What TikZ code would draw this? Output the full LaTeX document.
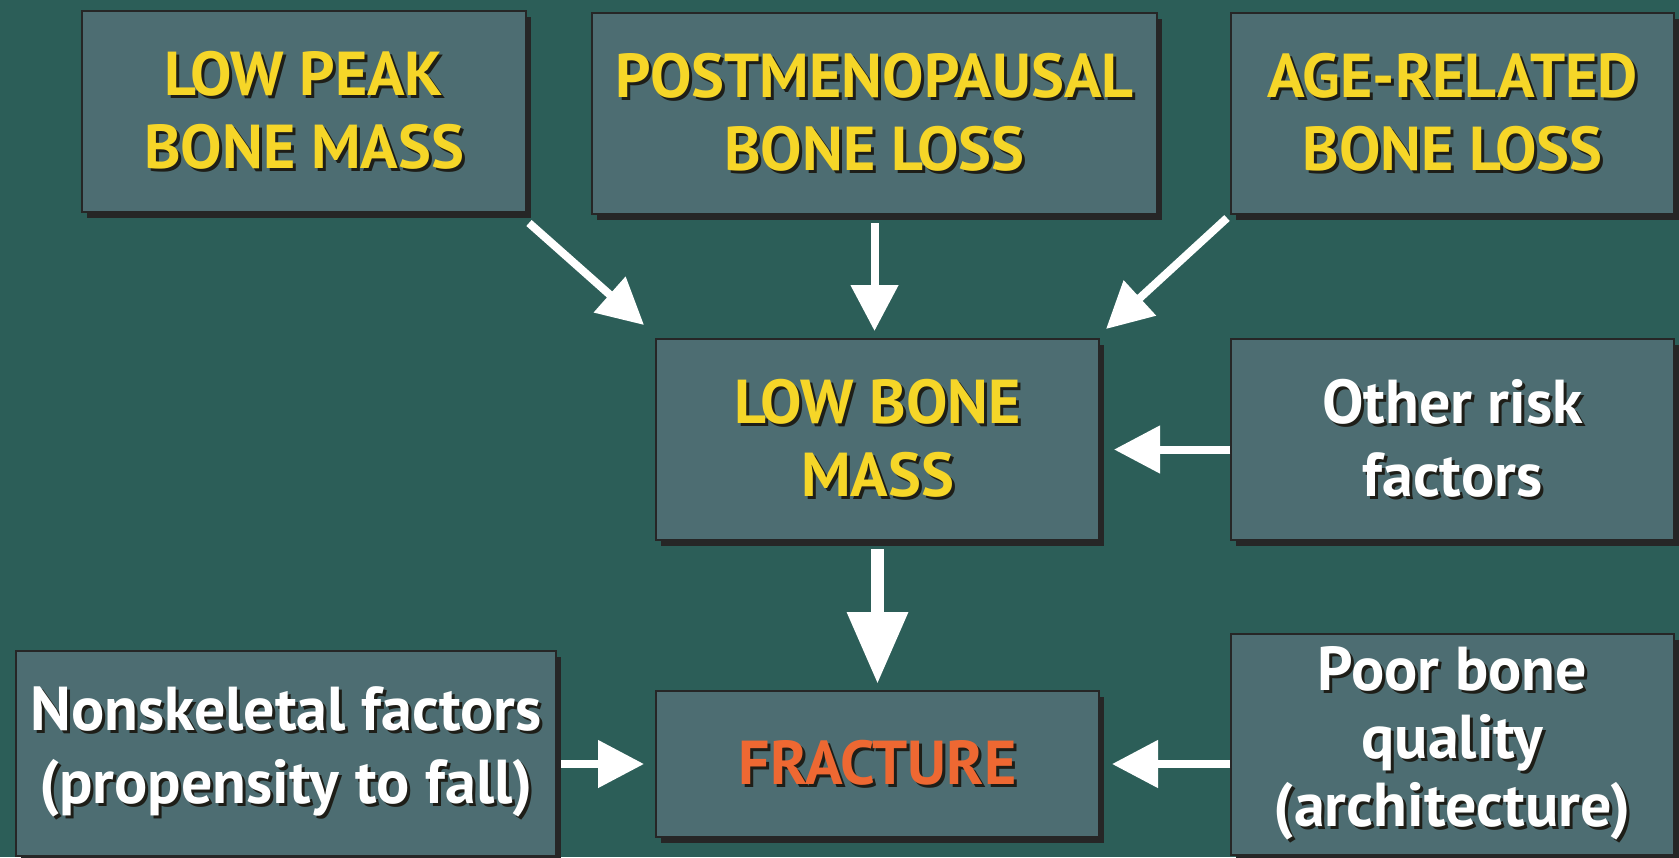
\documentclass[tikz,border=0pt]{standalone}
\usepackage{fontspec}
\setmainfont{PT Sans}
\usetikzlibrary{arrows.meta, positioning, calc, shadows}

\definecolor{boardbg}{RGB}{44,94,88}
\definecolor{boxfill}{RGB}{77,109,114}
\definecolor{headyellow}{RGB}{246,214,40}
\definecolor{fractorange}{RGB}{238,104,50}
\definecolor{textshade}{RGB}{30,30,24}

% one line of text with a dark copy behind it
\newcommand\shadowline[1]{%
  \makebox[0pt][l]{\hspace{1.5pt}\raisebox{-1.5pt}{\textcolor{textshade}{#1}}}#1}

\begin{document}
\begin{tikzpicture}[
    every node/.style={
        draw=black!85,
        line width=1pt,
        fill=boxfill,
        drop shadow={shadow xshift=2.5pt, shadow yshift=-3pt, opacity=1, fill=black!85},
        align=center,
        inner sep=0pt,
        text=white,
        font=\bfseries\fontsize{31}{36.5}\selectfont,
        minimum width=221.5pt,
        minimum height=100.5pt
    },
    heading/.style={text=headyellow},
    arrow/.style={-{Triangle[width=23pt,length=23pt]}, line width=4pt, draw=white},
    bigarrow/.style={-{Triangle[width=29pt,length=36pt]}, line width=6.5pt, draw=white},
    node distance=64pt
]

% ------------------------
% Board
% ------------------------
\fill[boardbg] (0,0) rectangle (839.5pt,-428.5pt);
\useasboundingbox (0,0) rectangle (839.5pt,-428.5pt);

% ------------------------
% Causes of low bone mass (top)
% ------------------------
\node[heading, minimum width=222pt] (peak) at (152pt,-55.75pt)
{\shadowline{LOW PEAK}\\
\shadowline{BONE MASS}};

\node[heading, minimum width=282.5pt, yshift=-1pt] (meno) [right=32pt of peak]
{\shadowline{POSTMENOPAUSAL}\\
\shadowline{BONE LOSS}};

\node[heading] (agerel) [right=36pt of meno]
{\shadowline{AGE-RELATED}\\
\shadowline{BONE LOSS}};

% ------------------------
% Low bone mass (middle)
% ------------------------
\node[heading, xshift=1.5pt] (lowmass) [below=61.5pt of meno]
{\shadowline{LOW BONE}\\
\shadowline{MASS}};

\node (other) [right=65pt of lowmass]
{\shadowline{Other risk}\\
\shadowline{factors}};

% ------------------------
% Fracture (bottom)
% ------------------------
\node[text=fractorange, minimum height=73pt] (fracture) [below=74.5pt of lowmass]
{\shadowline{FRACTURE}};

\node[minimum width=270pt, minimum height=102.5pt, yshift=5.25pt] (nonskel) [left=49pt of fracture]
{\shadowline{Nonskeletal factors}\\
\shadowline{(propensity to fall)}};

\node[minimum height=110.5pt, yshift=9.75pt, font=\bfseries\fontsize{31}{34}\selectfont] (poor) [right=65pt of fracture]
{\shadowline{Poor bone}\\
\shadowline{quality}\\
\shadowline{(architecture)}};

% ------------------------
% Arrows
% ------------------------
\draw[arrow] ($(peak.south east)+(1pt,-5pt)$) -- ($(lowmass.north west)+(-5.5pt,6.5pt)$);
\draw[arrow, shorten <=4pt, shorten >=3.5pt] (meno.south) -- (meno.south |- lowmass.north);
\draw[arrow] ($(agerel.south west)+(-1.5pt,-1.5pt)$) -- ($(lowmass.north east)+(3pt,4.5pt)$);
\draw[arrow, shorten >=7pt] ([yshift=-5pt]other.west) -- ([yshift=-5pt]other.west -| lowmass.east);
\draw[bigarrow, shorten <=4pt, shorten >=3pt] (lowmass.south) -- (fracture.north);
\draw[arrow, shorten <=2pt, shorten >=5.5pt] (nonskel.east |- fracture.west) -- (fracture.west);
\draw[arrow, shorten >=6pt] (poor.west |- fracture.east) -- (fracture.east);

\end{tikzpicture}
\end{document}
